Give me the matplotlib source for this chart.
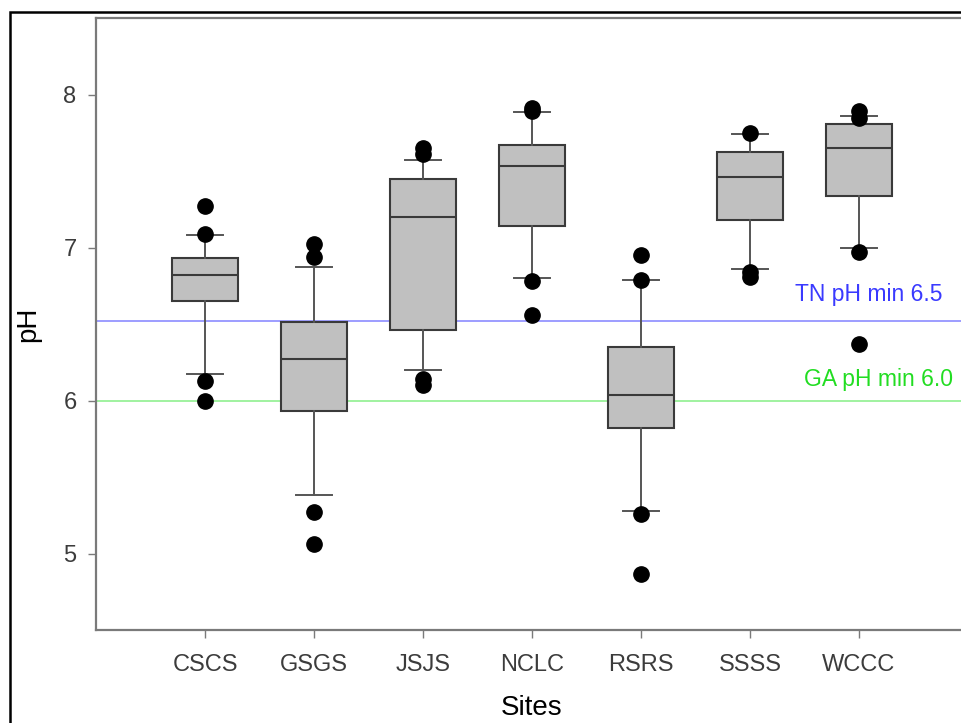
import matplotlib
matplotlib.use("Agg")
import matplotlib.pyplot as plt
from matplotlib.patches import Rectangle

plt.rcParams['font.family'] = ['Liberation Sans', 'DejaVu Sans']

sites = ['CSCS', 'GSGS', 'JSJS', 'NCLC', 'RSRS', 'SSSS', 'WCCC']

# box statistics
q1 = [6.65, 5.93, 6.46, 7.14, 5.82, 7.18, 7.335]
med = [6.82, 6.27, 7.20, 7.53, 6.035, 7.46, 7.65]
q3 = [6.93, 6.515, 7.45, 7.67, 6.35, 7.625, 7.81]
wlo = [6.17, 5.38, 6.20, 6.80, 5.28, 6.857, 7.00]
whi = [7.08, 6.875, 7.57, 7.885, 6.785, 7.74, 7.857]
fliers = [
    [7.27, 7.09, 6.13, 6.00],
    [7.02, 6.94, 5.27, 5.06],
    [7.65, 7.61, 6.14, 6.10],
    [7.91, 7.89, 6.78, 6.56],
    [6.95, 6.79, 5.26, 4.865],
    [7.75, 6.84, 6.81],
    [7.89, 7.845, 6.97, 6.37],
]

tn_min = 6.52
ga_min = 6.0

stats = []
for i in range(len(sites)):
    stats.append({'label': sites[i], 'q1': q1[i], 'med': med[i], 'q3': q3[i],
                  'whislo': wlo[i], 'whishi': whi[i], 'fliers': fliers[i]})

fig = plt.figure(figsize=(9.61, 7.23), dpi=100)
ax = fig.add_axes([96/961, 93/723, 872/961, 612/723])

spine_col = '#7a7a7a'
ax.bxp(stats, positions=range(1, 8), widths=0.6, patch_artist=True,
       capwidths=0.33,
       boxprops=dict(facecolor='#c0c0c0', edgecolor='#3a3a3a', linewidth=1.5),
       medianprops=dict(color='#3a3a3a', linewidth=1.5),
       whiskerprops=dict(color='#555555', linewidth=1.4),
       capprops=dict(color='#555555', linewidth=1.4),
       flierprops=dict(marker='o', markerfacecolor='black', markeredgecolor='black',
                       markersize=11, linestyle='none'))

ax.axhline(tn_min, color='#8c8cff', linewidth=1.2, zorder=0)
ax.axhline(ga_min, color='#90f090', linewidth=1.2, zorder=0)
ax.text(7.77, tn_min + 0.17, 'TN pH min 6.5', color='#3a3aff', fontsize=16.5,
        ha='right', va='center')
ax.text(7.86, ga_min + 0.14, 'GA pH min 6.0', color='#22dd22', fontsize=16.5,
        ha='right', va='center')

ax.set_xlim(0, 8)
ax.set_ylim(4.5, 8.5)
ax.set_xticks(range(1, 8))
ax.set_xticklabels(sites)
ax.set_yticks([5, 6, 7, 8])

for s in ['left', 'bottom', 'top']:
    ax.spines[s].set_color(spine_col)
    ax.spines[s].set_linewidth(1.6)
ax.spines['right'].set_visible(False)

ax.tick_params(axis='both', direction='out', length=6, width=1, color=spine_col,
               labelsize=17, labelcolor='#3c3c3c', pad=8)
ax.tick_params(axis='x', pad=11)
ax.set_xlabel('Sites', fontsize=20, labelpad=14)
ax.set_ylabel('pH', fontsize=20, labelpad=16)

# outer frame around the picture
fig.patches.append(Rectangle((10/961, -0.2), 1.2, 1.2 - 12/723,
                             transform=fig.transFigure, fill=False,
                             edgecolor='black', linewidth=1.8, figure=fig))

fig.savefig('out.png', dpi=100)
